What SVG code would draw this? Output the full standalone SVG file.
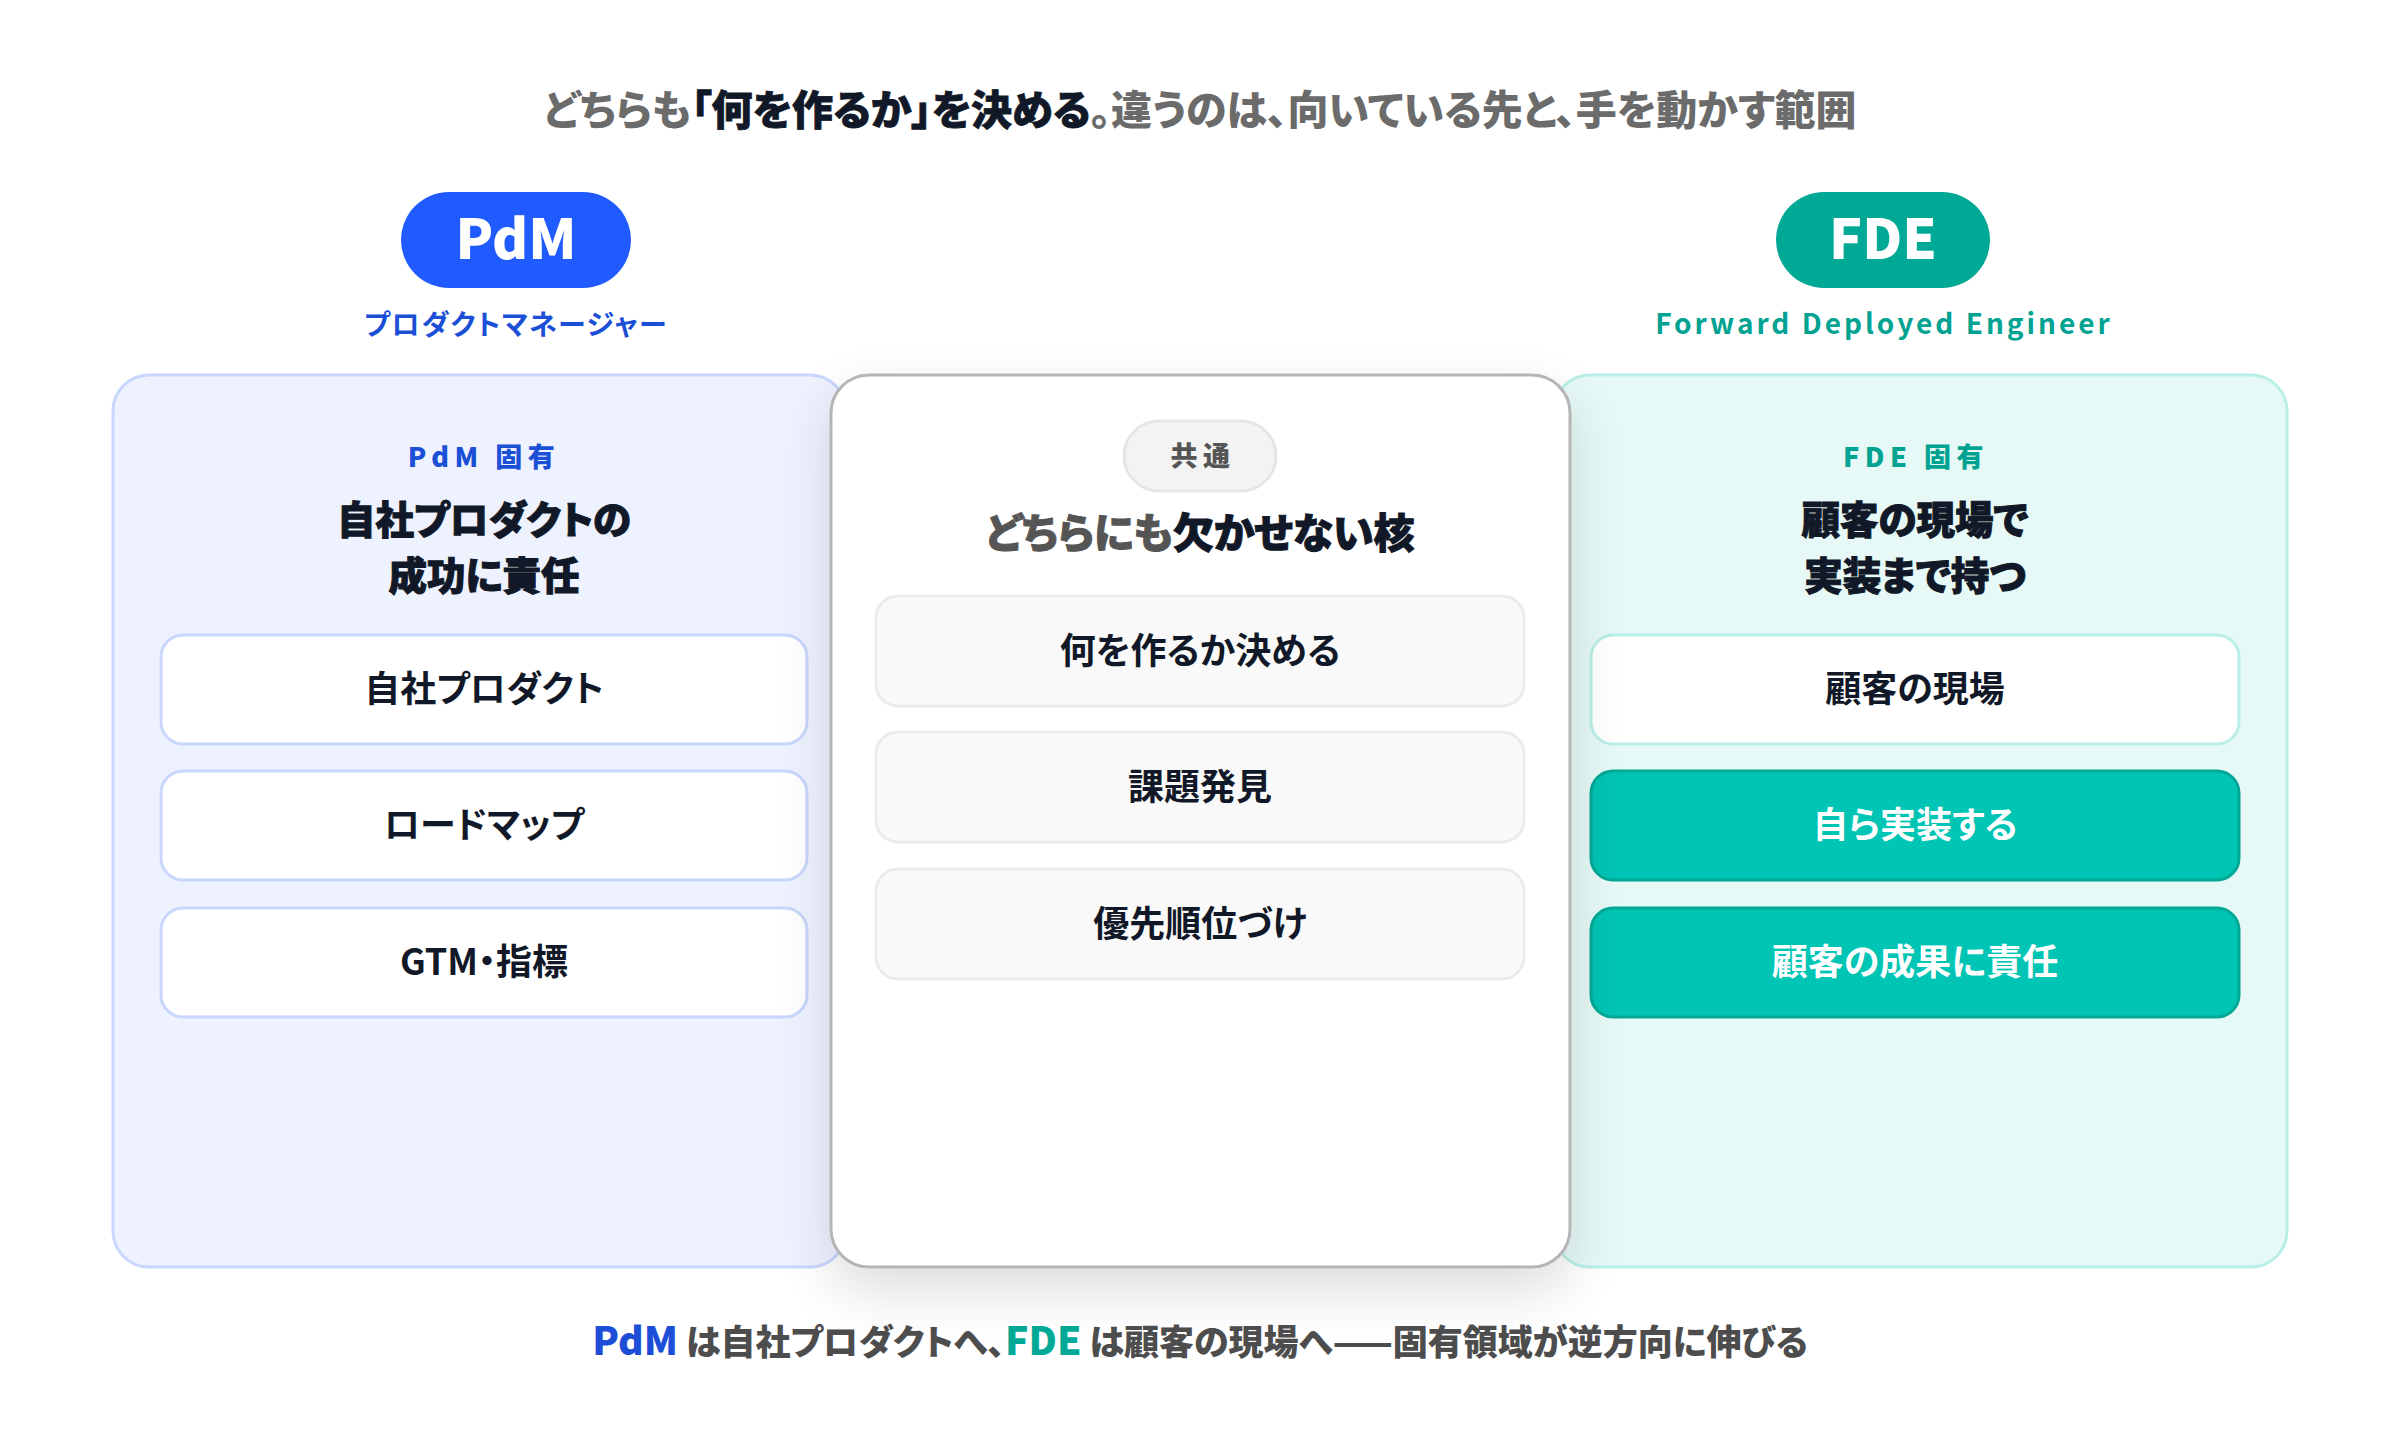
<svg xmlns="http://www.w3.org/2000/svg" width="2400" height="1440" viewBox="0 0 2400 1440">
<defs>
<style>
text{font-family:"Noto Sans CJK JP","Noto Sans",sans-serif;font-feature-settings:"palt";}
.title{font-size:41px;font-weight:800;}
.pill-t{font-size:55px;font-weight:900;fill:#fff;}
.sub{font-size:28px;font-weight:700;letter-spacing:1.5px;}
.tag{font-size:27px;font-weight:800;letter-spacing:5.5px;}
.head{font-size:38.5px;font-weight:900;fill:#111827;stroke:#111827;stroke-width:1;}
.item{font-size:36px;font-weight:700;fill:#111827;}
.box-pdm{fill:#ffffff;stroke:#c9d6fd;stroke-width:3;}
.box-com{fill:#f9f9f9;stroke:#ebebeb;stroke-width:3;}
.box-fde{fill:#ffffff;stroke:#b9efe7;stroke-width:3;}
.box-fde-on{fill:#00c4b4;stroke:#00a896;stroke-width:3;}
.cap{font-size:35px;font-weight:800;fill:#4d4d4d;}
</style>
<filter id="shadow" x="-30%" y="-20%" width="160%" height="150%">
<feGaussianBlur in="SourceAlpha" stdDeviation="28"/>
<feOffset dy="22" result="b"/>
<feComponentTransfer><feFuncA type="linear" slope="0.14"/></feComponentTransfer>
<feMerge><feMergeNode/><feMergeNode in="SourceGraphic"/></feMerge>
</filter>
</defs>
<rect width="2400" height="1440" fill="#ffffff"/>

<g id="title">
<text class="title" x="1200" y="125" text-anchor="middle"><tspan fill="#6b6b6b">どちらも</tspan><tspan fill="#111827" font-weight="900" stroke="#111827" stroke-width="0.8">「何を作るか」を決める</tspan><tspan fill="#6b6b6b">。違うのは、向いている先と、手を動かす範囲</tspan></text>
</g>

<g id="badge-pdm">
<rect x="401" y="192" width="230" height="96" rx="48" fill="#1f5bff"/>
<text class="pill-t" x="516" y="259" text-anchor="middle">PdM</text>
<text class="sub" x="516" y="335" text-anchor="middle" fill="#1a4fd6">プロダクトマネージャー</text>
</g>

<g id="badge-fde">
<rect x="1776" y="192" width="214" height="96" rx="48" fill="#00a896"/>
<text class="pill-t" x="1883" y="259" text-anchor="middle">FDE</text>
<text class="sub" x="1884" y="334" text-anchor="middle" fill="#00a391" style="letter-spacing:3px">Forward Deployed Engineer</text>
</g>

<g id="panel-pdm">
<rect x="113" y="375" width="733" height="892" rx="36" fill="#eef2ff" stroke="#c9d6fd" stroke-width="3"/>
<text class="tag" x="484" y="467" text-anchor="middle" fill="#1a4fd6">PdM 固有</text>
<text class="head" x="484" y="534" text-anchor="middle">自社プロダクトの</text>
<text class="head" x="484" y="590" text-anchor="middle">成功に責任</text>
<g id="pdm-item-1"><rect class="box-pdm" x="161" y="635" width="646" height="109" rx="22"/><text class="item" x="484" y="702" text-anchor="middle">自社プロダクト</text></g>
<g id="pdm-item-2"><rect class="box-pdm" x="161" y="771" width="646" height="109" rx="22"/><text class="item" x="484" y="838" text-anchor="middle">ロードマップ</text></g>
<g id="pdm-item-3"><rect class="box-pdm" x="161" y="908" width="646" height="109" rx="22"/><text class="item" x="484" y="975" text-anchor="middle">GTM・指標</text></g>
</g>

<g id="panel-fde">
<rect x="1554" y="375" width="733" height="892" rx="36" fill="#e6f9f6" stroke="#b9efe7" stroke-width="3"/>
<text class="tag" x="1916" y="467" text-anchor="middle" fill="#00a391">FDE 固有</text>
<text class="head" x="1915" y="534" text-anchor="middle">顧客の現場で</text>
<text class="head" x="1915" y="590" text-anchor="middle">実装まで持つ</text>
<g id="fde-item-1"><rect class="box-fde" x="1591" y="635" width="648" height="109" rx="22"/><text class="item" x="1915" y="702" text-anchor="middle">顧客の現場</text></g>
<g id="fde-item-2"><rect class="box-fde-on" x="1591" y="771" width="648" height="109" rx="22"/><text class="item" x="1915" y="838" text-anchor="middle" style="fill:#ffffff">自ら実装する</text></g>
<g id="fde-item-3"><rect class="box-fde-on" x="1591" y="908" width="648" height="109" rx="22"/><text class="item" x="1915" y="975" text-anchor="middle" style="fill:#ffffff">顧客の成果に責任</text></g>
</g>

<g id="panel-common">
<rect x="831" y="375" width="739" height="892" rx="38" fill="#ffffff" stroke="#b5b5b5" stroke-width="3" filter="url(#shadow)"/>
<rect x="1124" y="421" width="152" height="70" rx="35" fill="#f3f3f3" stroke="#e6e6e6" stroke-width="3"/>
<text class="tag" x="1203" y="466" text-anchor="middle" fill="#555555">共通</text>
<text class="head" x="1200" y="548" text-anchor="middle" style="font-size:41px"><tspan style="fill:#555555;stroke:#555555">どちらにも</tspan><tspan>欠かせない核</tspan></text>
<g id="common-item-1"><rect class="box-com" x="876" y="596" width="648" height="110" rx="22"/><text class="item" x="1200" y="664" text-anchor="middle">何を作るか決める</text></g>
<g id="common-item-2"><rect class="box-com" x="876" y="732" width="648" height="110" rx="22"/><text class="item" x="1200" y="800" text-anchor="middle">課題発見</text></g>
<g id="common-item-3"><rect class="box-com" x="876" y="869" width="648" height="110" rx="22"/><text class="item" x="1200" y="937" text-anchor="middle">優先順位づけ</text></g>
</g>

<g id="connectors"></g>

<g id="caption">
<text class="cap" x="1200" y="1355" text-anchor="middle"><tspan style="fill:#1d4ed8;font-size:39px;font-weight:900">PdM</tspan><tspan> は自社プロダクトへ、</tspan><tspan style="fill:#00a896;font-size:39px;font-weight:900">FDE</tspan><tspan> は顧客の現場へ——固有領域が逆方向に伸びる</tspan></text>
</g>
</svg>
